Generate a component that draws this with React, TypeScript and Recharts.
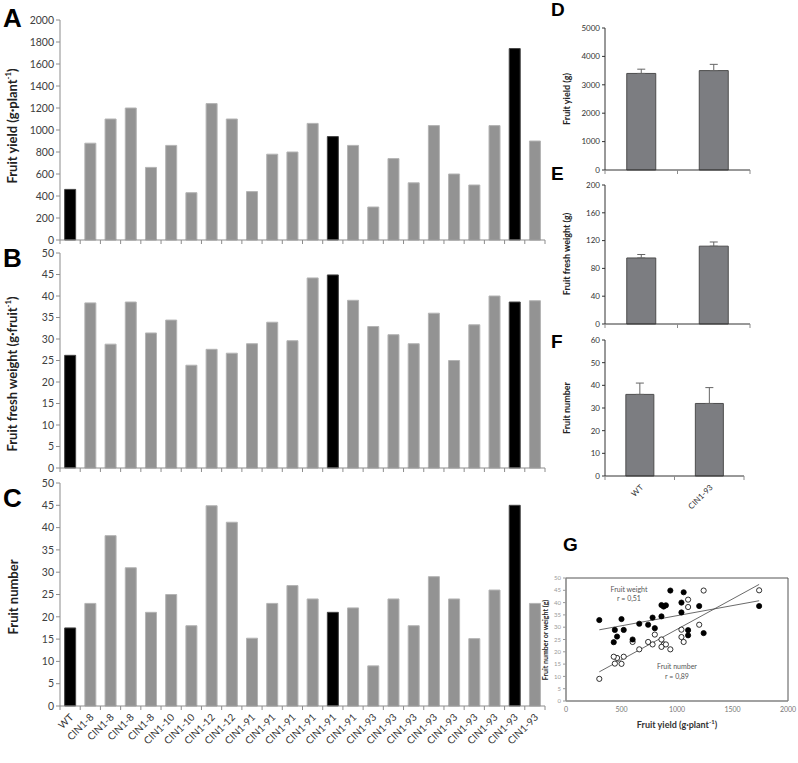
import React from "react"
import {
  BarChart,
  Bar,
  Cell,
  XAxis,
  YAxis,
  ErrorBar,
  ScatterChart,
  Scatter,
  ReferenceArea,
} from "recharts"

const lines = [
  "WT", "CIN1-8", "CIN1-8", "CIN1-8", "CIN1-8", "CIN1-10", "CIN1-10", "CIN1-12", "CIN1-12",
  "CIN1-91", "CIN1-91", "CIN1-91", "CIN1-91", "CIN1-91", "CIN1-91",
  "CIN1-93", "CIN1-93", "CIN1-93", "CIN1-93", "CIN1-93", "CIN1-93", "CIN1-93", "CIN1-93", "CIN1-93",
]
const blackBars = [0, 13, 22]

const fruitYield = [460, 880, 1100, 1200, 660, 860, 430, 1240, 1100, 440, 780, 800, 1060, 940, 860, 300, 740, 520, 1040, 600, 500, 1040, 1740, 900]
const fruitWeight = [26.2, 38.4, 28.8, 38.6, 31.4, 34.4, 23.9, 27.6, 26.7, 28.9, 33.9, 29.6, 44.2, 44.9, 39.0, 32.9, 31.0, 28.9, 36.0, 25.0, 33.3, 40.0, 38.6, 38.9]
const fruitNumber = [17.5, 23, 38.2, 31, 21, 25, 18, 44.9, 41.2, 15.2, 23, 27, 24, 21, 22, 9, 24, 18, 29, 24, 15.1, 26, 45, 23]

const groups = ["WT", "CIN1-93"]
const meanYield = [3400, 3500]
const errYield = [150, 220]
const meanWeight = [95, 112]
const errWeight = [5, 6]
const meanNumber = [36, 32]
const errNumber = [5, 7]

const FONT = "Lato, 'Open Sans', sans-serif"
const AXIS = "#8c8c8c"

const range = (a: number, b: number, s: number) => {
  const out: number[] = []
  for (let v = a; v <= b + 1e-9; v += s) out.push(v)
  return out
}

// least-squares line over the plotted points, drawn between min and max x
function fitLine(xs: number[], ys: number[]) {
  const n = xs.length
  const mx = xs.reduce((s, v) => s + v, 0) / n
  const my = ys.reduce((s, v) => s + v, 0) / n
  let sxy = 0, sxx = 0
  xs.forEach((x, i) => { sxy += (x - mx) * (ys[i] - my); sxx += (x - mx) ** 2 })
  const b = sxy / sxx
  const a = my - b * mx
  const lo = Math.min(...xs), hi = Math.max(...xs)
  return [{ x: lo, y: a + b * lo }, { x: hi, y: a + b * hi }]
}

function CatTick(props: any) {
  const { x, y, payload, index, bw, count, showLabel, fs } = props
  return (
    <g>
      <line x1={x - bw / 2} x2={x - bw / 2} y1={y} y2={y + 4} stroke={AXIS} />
      {index === count - 1 && <line x1={x + bw / 2} x2={x + bw / 2} y1={y} y2={y + 4} stroke={AXIS} />}
      {showLabel && (
        <text
          x={x + 4}
          y={y + 12}
          transform={`rotate(-45, ${x + 4}, ${y + 12})`}
          textAnchor="end"
          fontSize={fs}
          fontFamily={FONT}
          fill="#333"
        >
          {payload.value}
        </text>
      )}
    </g>
  )
}

function VLabel({ text, sup, cx, cy, size }: { text: string; sup?: string; cx: number; cy: number; size: number }) {
  return (
    <div
      style={{
        position: "absolute",
        left: cx,
        top: cy,
        transform: "translate(-50%, -50%) rotate(-90deg)",
        whiteSpace: "nowrap",
        fontFamily: FONT,
        fontWeight: 700,
        fontSize: size,
        color: "#222",
        lineHeight: 1,
      }}
    >
      {text}
      {sup && <sup style={{ fontSize: size * 0.6 }}>{sup}</sup>}
      {sup && ")"}
    </div>
  )
}

function Letter({ ch, left, top, size }: { ch: string; left: number; top: number; size: number }) {
  return (
    <div
      style={{
        position: "absolute",
        left,
        top,
        fontFamily: "'Liberation Sans', Arial, sans-serif",
        fontWeight: 700,
        fontSize: size,
        lineHeight: 1,
        color: "#000",
      }}
    >
      {ch}
    </div>
  )
}

function Note({ text, cx, top }: { text: string; cx: number; top: number }) {
  return (
    <div
      style={{
        position: "absolute",
        left: cx,
        top,
        transform: "translateX(-50%)",
        fontFamily: FONT,
        fontSize: 7,
        color: "#555",
        whiteSpace: "nowrap",
        lineHeight: 1,
      }}
    >
      {text}
    </div>
  )
}

function BigPanel({ values, top, height, marginTop, xHeight, max, step, showLabels }: any) {
  const data = lines.map((name, i) => ({ name, v: values[i] }))
  const bw = 485 / lines.length
  return (
    <div style={{ position: "absolute", left: 0, top }}>
      <BarChart width={550} height={height} data={data} margin={{ top: marginTop, right: 5, left: 0, bottom: 0 }} barCategoryGap="23%">
        <XAxis
          dataKey="name"
          interval={0}
          height={xHeight}
          tickSize={0}
          tickMargin={0}
          axisLine={{ stroke: AXIS }}
          tickLine={false}
          allowDuplicatedCategory
          tick={(p: any) => <CatTick {...p} bw={bw} count={lines.length} showLabel={showLabels} fs={10} />}
        />
        <YAxis
          width={60}
          domain={[0, max]}
          ticks={range(0, max, step)}
          interval={0}
          tickSize={4}
          tick={{ fontSize: 10.5, fill: "#404040", fontFamily: FONT }}
          axisLine={{ stroke: AXIS }}
          tickLine={{ stroke: AXIS }}
        />
        <Bar dataKey="v" isAnimationActive={false}>
          {data.map((_, i) => (
            <Cell
              key={i}
              fill={blackBars.includes(i) ? "#000" : "#939393"}
              stroke={blackBars.includes(i) ? "#444" : "#b4b4b4"}
            />
          ))}
        </Bar>
      </BarChart>
    </div>
  )
}

function SmallPanel({ means, errs, top, height, xHeight, max, step, right, showLabels }: any) {
  const data = groups.map((name, i) => ({ name, v: means[i], e: [0, errs[i]] }))
  const bw = (195 - 45 - right) / groups.length
  return (
    <div style={{ position: "absolute", left: 560, top }}>
      <BarChart width={195} height={height} data={data} margin={{ top: 10, right, left: 0, bottom: 0 }} barCategoryGap="30%">
        <XAxis
          dataKey="name"
          interval={0}
          height={xHeight}
          tickSize={0}
          tickMargin={0}
          axisLine={{ stroke: "#333" }}
          tickLine={false}
          tick={(p: any) => <CatTick {...p} bw={bw} count={groups.length} showLabel={showLabels} fs={8} />}
        />
        <YAxis
          width={45}
          domain={[0, max]}
          ticks={range(0, max, step)}
          interval={0}
          tickSize={3}
          tick={{ fontSize: 8, fill: "#333", fontFamily: FONT }}
          axisLine={{ stroke: "#333" }}
          tickLine={{ stroke: "#333" }}
        />
        <Bar dataKey="v" fill="#7c7d81" stroke="#4d4d4d" isAnimationActive={false}>
          <ErrorBar dataKey="e" width={4} stroke="#666" strokeWidth={1} direction="y" />
        </Bar>
      </BarChart>
    </div>
  )
}

const dot = (fill: string) => (p: any) => <circle cx={p.cx} cy={p.cy} r={2.6} fill={fill} stroke="#000" strokeWidth={0.8} />
const none = () => <g />

export default function App() {
  const weightPts = fruitYield.map((x, i) => ({ x, y: fruitWeight[i] }))
  const numberPts = fruitYield.map((x, i) => ({ x, y: fruitNumber[i] }))
  const weightFit = fitLine(fruitYield, fruitWeight)
  const numberFit = fitLine(fruitYield, fruitNumber)

  return (
    <div style={{ position: "absolute", left: 0, top: 0, width: 798, height: 763, background: "#fff", overflow: "hidden" }}>
      <BigPanel values={fruitYield} top={0} height={250} marginTop={20} xHeight={10} max={2000} step={200} />
      <BigPanel values={fruitWeight} top={243} height={235} marginTop={10} xHeight={10} max={50} step={5} />
      <BigPanel values={fruitNumber} top={473} height={290} marginTop={10} xHeight={57} max={50} step={5} showLabels />

      <Letter ch="A" left={3} top={5} size={26} />
      <Letter ch="B" left={3} top={245} size={26} />
      <Letter ch="C" left={3} top={485} size={26} />
      <VLabel text="Fruit yield (g·plant" sup="-1" cx={12} cy={126} size={13} />
      <VLabel text="Fruit fresh weight (g·fruit" sup="-1" cx={12} cy={374} size={13} />
      <VLabel text="Fruit number" cx={13} cy={597} size={13} />

      <SmallPanel means={meanYield} errs={errYield} top={18} height={158} xHeight={6} max={5000} step={1000} right={5} />
      <SmallPanel means={meanWeight} errs={errWeight} top={175} height={155} xHeight={6} max={200} step={40} right={5} />
      <SmallPanel means={meanNumber} errs={errNumber} top={330} height={191} xHeight={45} max={60} step={10} right={11} showLabels />

      <Letter ch="D" left={551} top={0} size={19} />
      <Letter ch="E" left={551} top={164} size={19} />
      <Letter ch="F" left={551} top={332} size={19} />
      <VLabel text="Fruit yield (g)" cx={566} cy={99} size={9} />
      <VLabel text="Fruit fresh weight (g)" cx={566} cy={254} size={9} />
      <VLabel text="Fruit number" cx={566} cy={408} size={9} />

      <div style={{ position: "absolute", left: 530, top: 570 }}>
        <ScatterChart width={268} height={145} margin={{ top: 8, right: 10, left: 0, bottom: 0 }}>
          <XAxis
            type="number"
            dataKey="x"
            domain={[0, 2000]}
            ticks={[0, 500, 1000, 1500, 2000]}
            height={14}
            tickSize={0}
            tickMargin={6}
            tick={{ fontSize: 7, fill: "#777", fontFamily: FONT }}
            axisLine={{ stroke: "#999" }}
          />
          <YAxis
            type="number"
            dataKey="y"
            domain={[0, 50]}
            ticks={range(0, 50, 5)}
            interval={0}
            width={36}
            tickSize={3}
            tick={{ fontSize: 6, fill: "#999", fontFamily: FONT }}
            axisLine={{ stroke: "#999" }}
            tickLine={{ stroke: "#999" }}
          />
          <ReferenceArea x1={0} x2={2000} y1={0} y2={50} fill="none" stroke="#555" strokeWidth={1} />
          <Scatter data={weightFit} line={{ stroke: "#444", strokeWidth: 0.8 }} shape={none} isAnimationActive={false} />
          <Scatter data={numberFit} line={{ stroke: "#444", strokeWidth: 0.8 }} shape={none} isAnimationActive={false} />
          <Scatter data={numberPts} shape={dot("#fff")} isAnimationActive={false} />
          <Scatter data={weightPts} shape={dot("#000")} isAnimationActive={false} />
        </ScatterChart>
      </div>
      <Letter ch="G" left={563} top={535} size={19} />
      <VLabel text="Fruit number or weight (g)" cx={545} cy={640} size={7} />
      <div
        style={{
          position: "absolute",
          left: 677,
          top: 719,
          transform: "translateX(-50%)",
          fontFamily: FONT,
          fontWeight: 700,
          fontSize: 9,
          color: "#333",
          whiteSpace: "nowrap",
          lineHeight: 1,
        }}
      >
        Fruit yield (g·plant<sup style={{ fontSize: 6 }}>-1</sup>)
      </div>
      <Note text="Fruit weight" cx={629} top={586} />
      <Note text="r = 0,51" cx={629} top={595} />
      <Note text="Fruit number" cx={677} top={663} />
      <Note text="r = 0,89" cx={677} top={673} />
    </div>
  )
}
